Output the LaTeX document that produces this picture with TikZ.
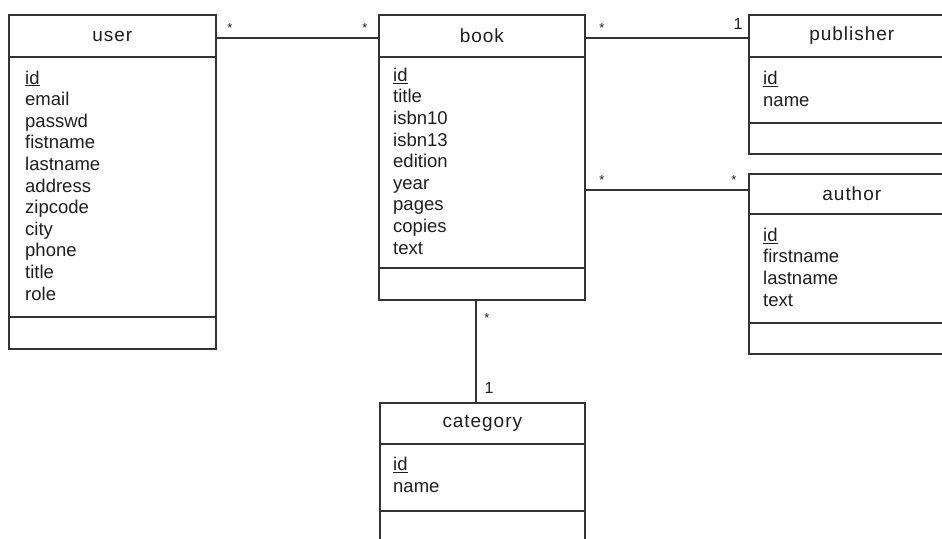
\documentclass[tikz,border=0pt]{standalone}
\usepackage{fontspec}
\setmainfont{Liberation Sans}
\usetikzlibrary{calc}
\definecolor{ln}{HTML}{333333}
\definecolor{tx}{HTML}{1E1E1E}
\begin{document}
\begin{tikzpicture}[x=1pt,y=-1pt,
 classbox/.style={draw=ln, line width=1.6pt, fill=white, anchor=north west, inner sep=0pt},
 sepline/.style={draw=ln, line width=1.6pt},
 methsep/.style={draw=ln, line width=2.2pt},
 title/.style={font=\fontsize{19}{21.6}\selectfont\addfontfeature{LetterSpace=5}, text=tx, anchor=center, inner sep=0pt},
 attrs/.style={font=\fontsize{18.5}{21.6}\selectfont, text=tx, align=left, anchor=base west, inner sep=0pt},
 assoc/.style={draw=ln, line width=1.6pt},
 mult/.style={font=\fontsize{16}{16}\selectfont, text=tx, inner sep=0pt},
 star/.style={font=\fontsize{13}{13}\selectfont, text=tx, inner sep=0pt}]
\useasboundingbox (0,0) rectangle (942,538);
\clip (0,0) rectangle (942,538);
\fill[white] (0,0) rectangle (942,538);

% class boxes
\node[classbox, minimum width=207pt, minimum height=334pt] (user) at (8,14) {};
\node[classbox, minimum width=206pt, minimum height=285pt] (book) at (378,14) {};
\node[classbox, minimum width=206pt, minimum height=139pt] (publisher) at (748,14) {};
\node[classbox, minimum width=206pt, minimum height=180pt] (author) at (748,173) {};
\node[classbox, minimum width=205pt, minimum height=160pt] (category) at (379,402) {};

% separators
\draw[sepline] ($(user.north west)+(0,43)$) -- ($(user.north east)+(0,43)$);
\draw[methsep] ($(user.north west)+(0,303)$) -- ($(user.north east)+(0,303)$);
\draw[sepline] ($(book.north west)+(0,43)$) -- ($(book.north east)+(0,43)$);
\draw[methsep] ($(book.north west)+(0,254)$) -- ($(book.north east)+(0,254)$);
\draw[sepline] ($(publisher.north west)+(0,43)$) -- ($(publisher.north east)+(0,43)$);
\draw[methsep] ($(publisher.north west)+(0,109)$) -- ($(publisher.north east)+(0,109)$);
\draw[sepline] ($(author.north west)+(0,41)$) -- ($(author.north east)+(0,41)$);
\draw[methsep] ($(author.north west)+(0,150)$) -- ($(author.north east)+(0,150)$);
\draw[sepline] ($(category.north west)+(0,42)$) -- ($(category.north east)+(0,42)$);
\draw[methsep] ($(category.north west)+(0,109)$) -- ($(category.north east)+(0,109)$);

% titles
\node[title] (userT) at ($(user.north)+(0,22)$) {user};
\node[title] (bookT) at ($(book.north)+(0,22)$) {book};
\node[title] (publisherT) at ($(publisher.north)+(0,22)$) {publisher};
\node[title] (authorT) at ($(author.north)+(0,21)$) {author};
\node[title] (categoryT) at ($(category.north)+(0,21.5)$) {category};

% attributes (anchored at the baseline of the last line)
\node[attrs] (userA) at (25,300) {\underline{id}\\email\\passwd\\fistname\\lastname\\address\\zipcode\\city\\phone\\title\\role};
\node[attrs] (bookA) at (393,254) {\underline{id}\\title\\isbn10\\isbn13\\edition\\year\\pages\\copies\\text};
\node[attrs] (publisherA) at (763,106) {\underline{id}\\name};
\node[attrs] (authorA) at (763,306) {\underline{id}\\firstname\\lastname\\text};
\node[attrs] (categoryA) at (393,492) {\underline{id}\\name};

% associations
\draw[assoc] ($(user.north east)+(0,24)$) -- ($(book.north west)+(0,24)$);
\draw[assoc] ($(book.north east)+(0,24)$) -- ($(publisher.north west)+(0,24)$);
\draw[assoc] ($(book.north east)+(0,176)$) -- ($(author.north west)+(0,17)$);
\draw[assoc] ($(book.south)+(-6,0)$) -- ($(category.north)+(-6.5,0)$);

% multiplicities
\node[star] (m1) at (230,28) {*};
\node[star] (m2) at (365,28) {*};
\node[star] (m3) at (602,28) {*};
\node[mult] (m4) at (738,24) {1};
\node[star] (m5) at (602,180) {*};
\node[star] (m6) at (734,180) {*};
\node[star] (m7) at (487,318) {*};
\node[mult] (m8) at (489,388) {1};
\end{tikzpicture}
\end{document}
